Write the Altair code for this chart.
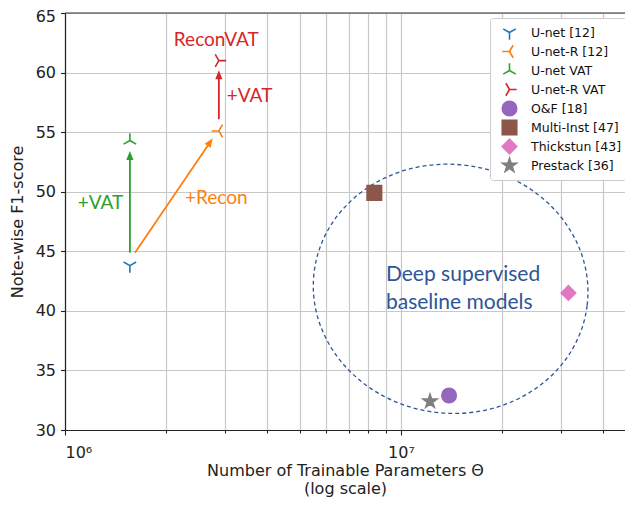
import math
import altair as alt
import pandas as pd

# ---------------- data ----------------
models = ["U-net [12]", "U-net-R [12]", "U-net VAT", "U-net-R VAT",
          "O&F [18]", "Multi-Inst [47]", "Thickstun [43]", "Prestack [36]"]
params = [1.56e6, 2.87e6, 1.56e6, 2.87e6, 1.39e7, 8.33e6, 3.15e7, 1.22e7]
f1 = [43.8, 55.1, 54.3, 61.0, 32.9, 49.9, 41.5, 32.4]
colors = ["#1f77b4", "#ff7f0e", "#2ca02c", "#d62728",
          "#9467bd", "#8c564b", "#e377c2", "#7f7f7f"]

arrow_x1 = [1.56e6, 1.615e6, 2.87e6]
arrow_y1 = [44.88, 44.88, 56.08]
arrow_x2 = [1.56e6, 2.752e6, 2.87e6]
arrow_y2 = [53.42, 54.48, 60.19]
arrow_colors = ["#2ca02c", "#ff7f0e", "#d62728"]

note_text = ["+VAT", "+Recon", "ReconVAT"]
note_x = [1.275e6, 2.82e6, 2.82e6]
note_y = [49.05, 49.47, 62.73]
note_colors = ["#2ca02c", "#ff7f0e", "#d62728"]
note2_text = ["+VAT"]
note2_x = [3.03e6]
note2_y = [58.03]

group_text = ["Deep supervised", "baseline models"]
group_x = [9.02e6, 9.02e6]
group_y = [43.0, 40.65]
ellipse_x = [1.405e7]
ellipse_y = [41.85]

x_ticks = [1e6, 2e6, 3e6, 4e6, 5e6, 6e6, 7e6, 8e6, 9e6, 1e7, 2e7, 3e7, 4e7]
y_ticks = [30, 35, 40, 45, 50, 55, 60, 65]

# ---------------- layout ----------------
W, H = 560, 417
XMIN, XMAX = 1e6, 10 ** (6 + 560 / 336)
YMIN, YMAX = 30, 65
px_per_dec = W / (math.log10(XMAX) - math.log10(XMIN))
px_per_unit = H / (YMAX - YMIN)

# marker shapes (unit paths)
TRI_DOWN = "M 0 0 L 0 1 M 0 0 L -0.866 -0.5 M 0 0 L 0.866 -0.5"
TRI_LEFT = "M 0 0 L -1 0 M 0 0 L 0.5 -0.866 M 0 0 L 0.5 0.866"
TRI_UP = "M 0 0 L 0 -1 M 0 0 L -0.866 0.5 M 0 0 L 0.866 0.5"
TRI_RIGHT = "M 0 0 L 1 0 M 0 0 L -0.5 -0.866 M 0 0 L -0.5 0.866"
STAR = ("M 0 -1 L 0.2245 -0.309 L 0.951 -0.309 L 0.363 0.118 L 0.588 0.809 "
        "L 0 0.382 L -0.588 0.809 L -0.363 0.118 L -0.951 -0.309 L -0.2245 -0.309 Z")
shapes = [TRI_DOWN, TRI_LEFT, TRI_UP, TRI_RIGHT, "circle", "square", "diamond", STAR]
sizes = [210, 210, 210, 210, 240, 240, 529, 256]
fills = ["transparent"] * 4 + colors[4:]

b = 0.905
k = 0.5523
ELLIPSE = (f"M 1 0 C 1 {k*b:.4f} {k} {b} 0 {b} C {-k} {b} -1 {k*b:.4f} -1 0 "
           f"C -1 {-k*b:.4f} {-k} {-b} 0 {-b} C {k} {-b} 1 {-k*b:.4f} 1 0 Z")
HEAD = "M 0 0 L -0.4 1 L 0.4 1 Z"

# arrow geometry derived from arrow data
ax_end, ay_end, angles = [], [], []
for x1, y1, x2, y2 in zip(arrow_x1, arrow_y1, arrow_x2, arrow_y2):
    dlog = math.log10(x2) - math.log10(x1)
    dxp = dlog * px_per_dec
    dyp = (y2 - y1) * px_per_unit
    L = math.hypot(dxp, dyp)
    angles.append(math.degrees(math.atan2(dxp, dyp)))
    f = 5.0 / L
    ax_end.append(10 ** (math.log10(x2) - f * dlog))
    ay_end.append(y2 - f * (y2 - y1))

pts = pd.DataFrame({"model": models, "params": params, "f1": f1})
arrows = pd.DataFrame({"x1": arrow_x1, "y1": arrow_y1, "xe": ax_end, "ye": ay_end,
                       "x2": arrow_x2, "y2": arrow_y2, "c": arrow_colors, "ang": angles})
notes = pd.DataFrame({"t": note_text, "x": note_x, "y": note_y, "c": note_colors})
notes2 = pd.DataFrame({"t": note2_text, "x": note2_x, "y": note2_y})
groups = pd.DataFrame({"t": group_text, "x": group_x, "y": group_y})
ell = pd.DataFrame({"x": ellipse_x, "y": ellipse_y})

xscale = alt.Scale(type="log", domain=[XMIN, XMAX], nice=False)
yscale = alt.Scale(domain=[YMIN, YMAX], nice=False, zero=False)

label_expr = ("datum.value == 1000000 ? '10\u2076' : "
              "(datum.value == 10000000 ? '10\u2077' : '')")

xaxis = alt.Axis(values=x_ticks, labelExpr=label_expr, labelOverlap=False,
                 title=["Number of Trainable Parameters \u0398", "(log scale)"],
                 titleLineHeight=18, titlePadding=2,
                 tickSize={"condition": {"test": "datum.value == 1000000 || datum.value == 10000000",
                                         "value": 5}, "value": 3},
                 labelPadding=9)
yaxis = alt.Axis(values=y_ticks, title="Note-wise F1-score", tickSize=4.5,
                 labelPadding=5, titlePadding=10,
                 labelOffset={"condition": {"test": "datum.value == 65", "value": 3},
                              "value": 0})

base_x = alt.X("params:Q", scale=xscale, axis=xaxis)
base_y = alt.Y("f1:Q", scale=yscale, axis=yaxis)

top_border = alt.Chart(ell).mark_rule(color="#333333", strokeWidth=1.2).encode(
    x=alt.value(0), x2=alt.value(W), y=alt.value(0))

ellipse = alt.Chart(ell).mark_point(
    shape=ELLIPSE, size=75625, angle=7, filled=False, stroke="#2f5597",
    strokeWidth=1.3, strokeDash=[4, 3], opacity=1
).encode(x=alt.X("x:Q", scale=xscale, axis=xaxis), y=alt.Y("y:Q", scale=yscale, axis=yaxis))

rules = alt.Chart(arrows).mark_rule(strokeWidth=1.8).encode(
    x=alt.X("x1:Q", scale=xscale, axis=xaxis), y=alt.Y("y1:Q", scale=yscale, axis=yaxis),
    x2="xe:Q", y2="ye:Q", color=alt.Color("c:N", scale=None))

heads = alt.Chart(arrows).mark_point(shape=HEAD, size=324, filled=True, opacity=1,
                                     strokeWidth=0).encode(
    x=alt.X("x2:Q", scale=xscale, axis=xaxis), y=alt.Y("y2:Q", scale=yscale, axis=yaxis),
    fill=alt.Fill("c:N", scale=None), angle=alt.Angle("ang:Q", scale=None))

legend = alt.Legend(orient="none", legendX=425, legendY=5, title=None,
                    fillColor="white", strokeColor="#cccccc", cornerRadius=3,
                    padding=5, labelFont="DejaVu Sans", labelFontSize=12.5,
                    labelColor="#111", labelOffset=13, symbolOffset=6,
                    symbolStrokeWidth=1.6, clipHeight=19, rowPadding=0)

points = alt.Chart(pts).mark_point(filled=True, opacity=1, strokeWidth=1.6).encode(
    x=base_x, y=base_y,
    shape=alt.Shape("model:N", scale=alt.Scale(domain=models, range=shapes), legend=legend),
    fill=alt.Fill("model:N", scale=alt.Scale(domain=models, range=fills), legend=legend),
    stroke=alt.Stroke("model:N", scale=alt.Scale(domain=models, range=colors), legend=legend),
    size=alt.Size("model:N", scale=alt.Scale(domain=models, range=sizes), legend=legend),
)

note_marks = alt.Chart(notes).mark_text(font="Lato", fontSize=19, align="center",
                                         baseline="middle").encode(
    x=alt.X("x:Q", scale=xscale, axis=xaxis), y=alt.Y("y:Q", scale=yscale, axis=yaxis),
    text="t:N", color=alt.Color("c:N", scale=None))

note2_marks = alt.Chart(notes2).mark_text(font="Lato", fontSize=19, align="left",
                                           baseline="middle", color="#d62728").encode(
    x=alt.X("x:Q", scale=xscale, axis=xaxis), y=alt.Y("y:Q", scale=yscale, axis=yaxis),
    text="t:N")

group_marks = alt.Chart(groups).mark_text(font="Lato", fontSize=21, align="left",
                                           baseline="middle", color="#2f5597").encode(
    x=alt.X("x:Q", scale=xscale, axis=xaxis), y=alt.Y("y:Q", scale=yscale, axis=yaxis),
    text="t:N")

chart = alt.layer(top_border, ellipse, rules, heads, points, note_marks, note2_marks,
                  group_marks).properties(
    width=W, height=H,
    background="white",
    autosize=alt.AutoSizeParams(type="none"),
    padding={"left": 57, "top": 5, "right": 0, "bottom": 67},
).configure_view(stroke=None).configure_axis(
    grid=True, gridColor="#c8c8c8", gridWidth=1.2,
    domainColor="#222222", domainWidth=1.2, tickColor="#222222", tickWidth=1.1,
    labelFont="DejaVu Sans", labelFontSize=16, labelColor="#222222",
    titleFont="DejaVu Sans", titleFontSize=16, titleFontWeight="normal", titleColor="#222222",
)

chart.save("out.html", embed_options={"renderer": "svg", "actions": False})
